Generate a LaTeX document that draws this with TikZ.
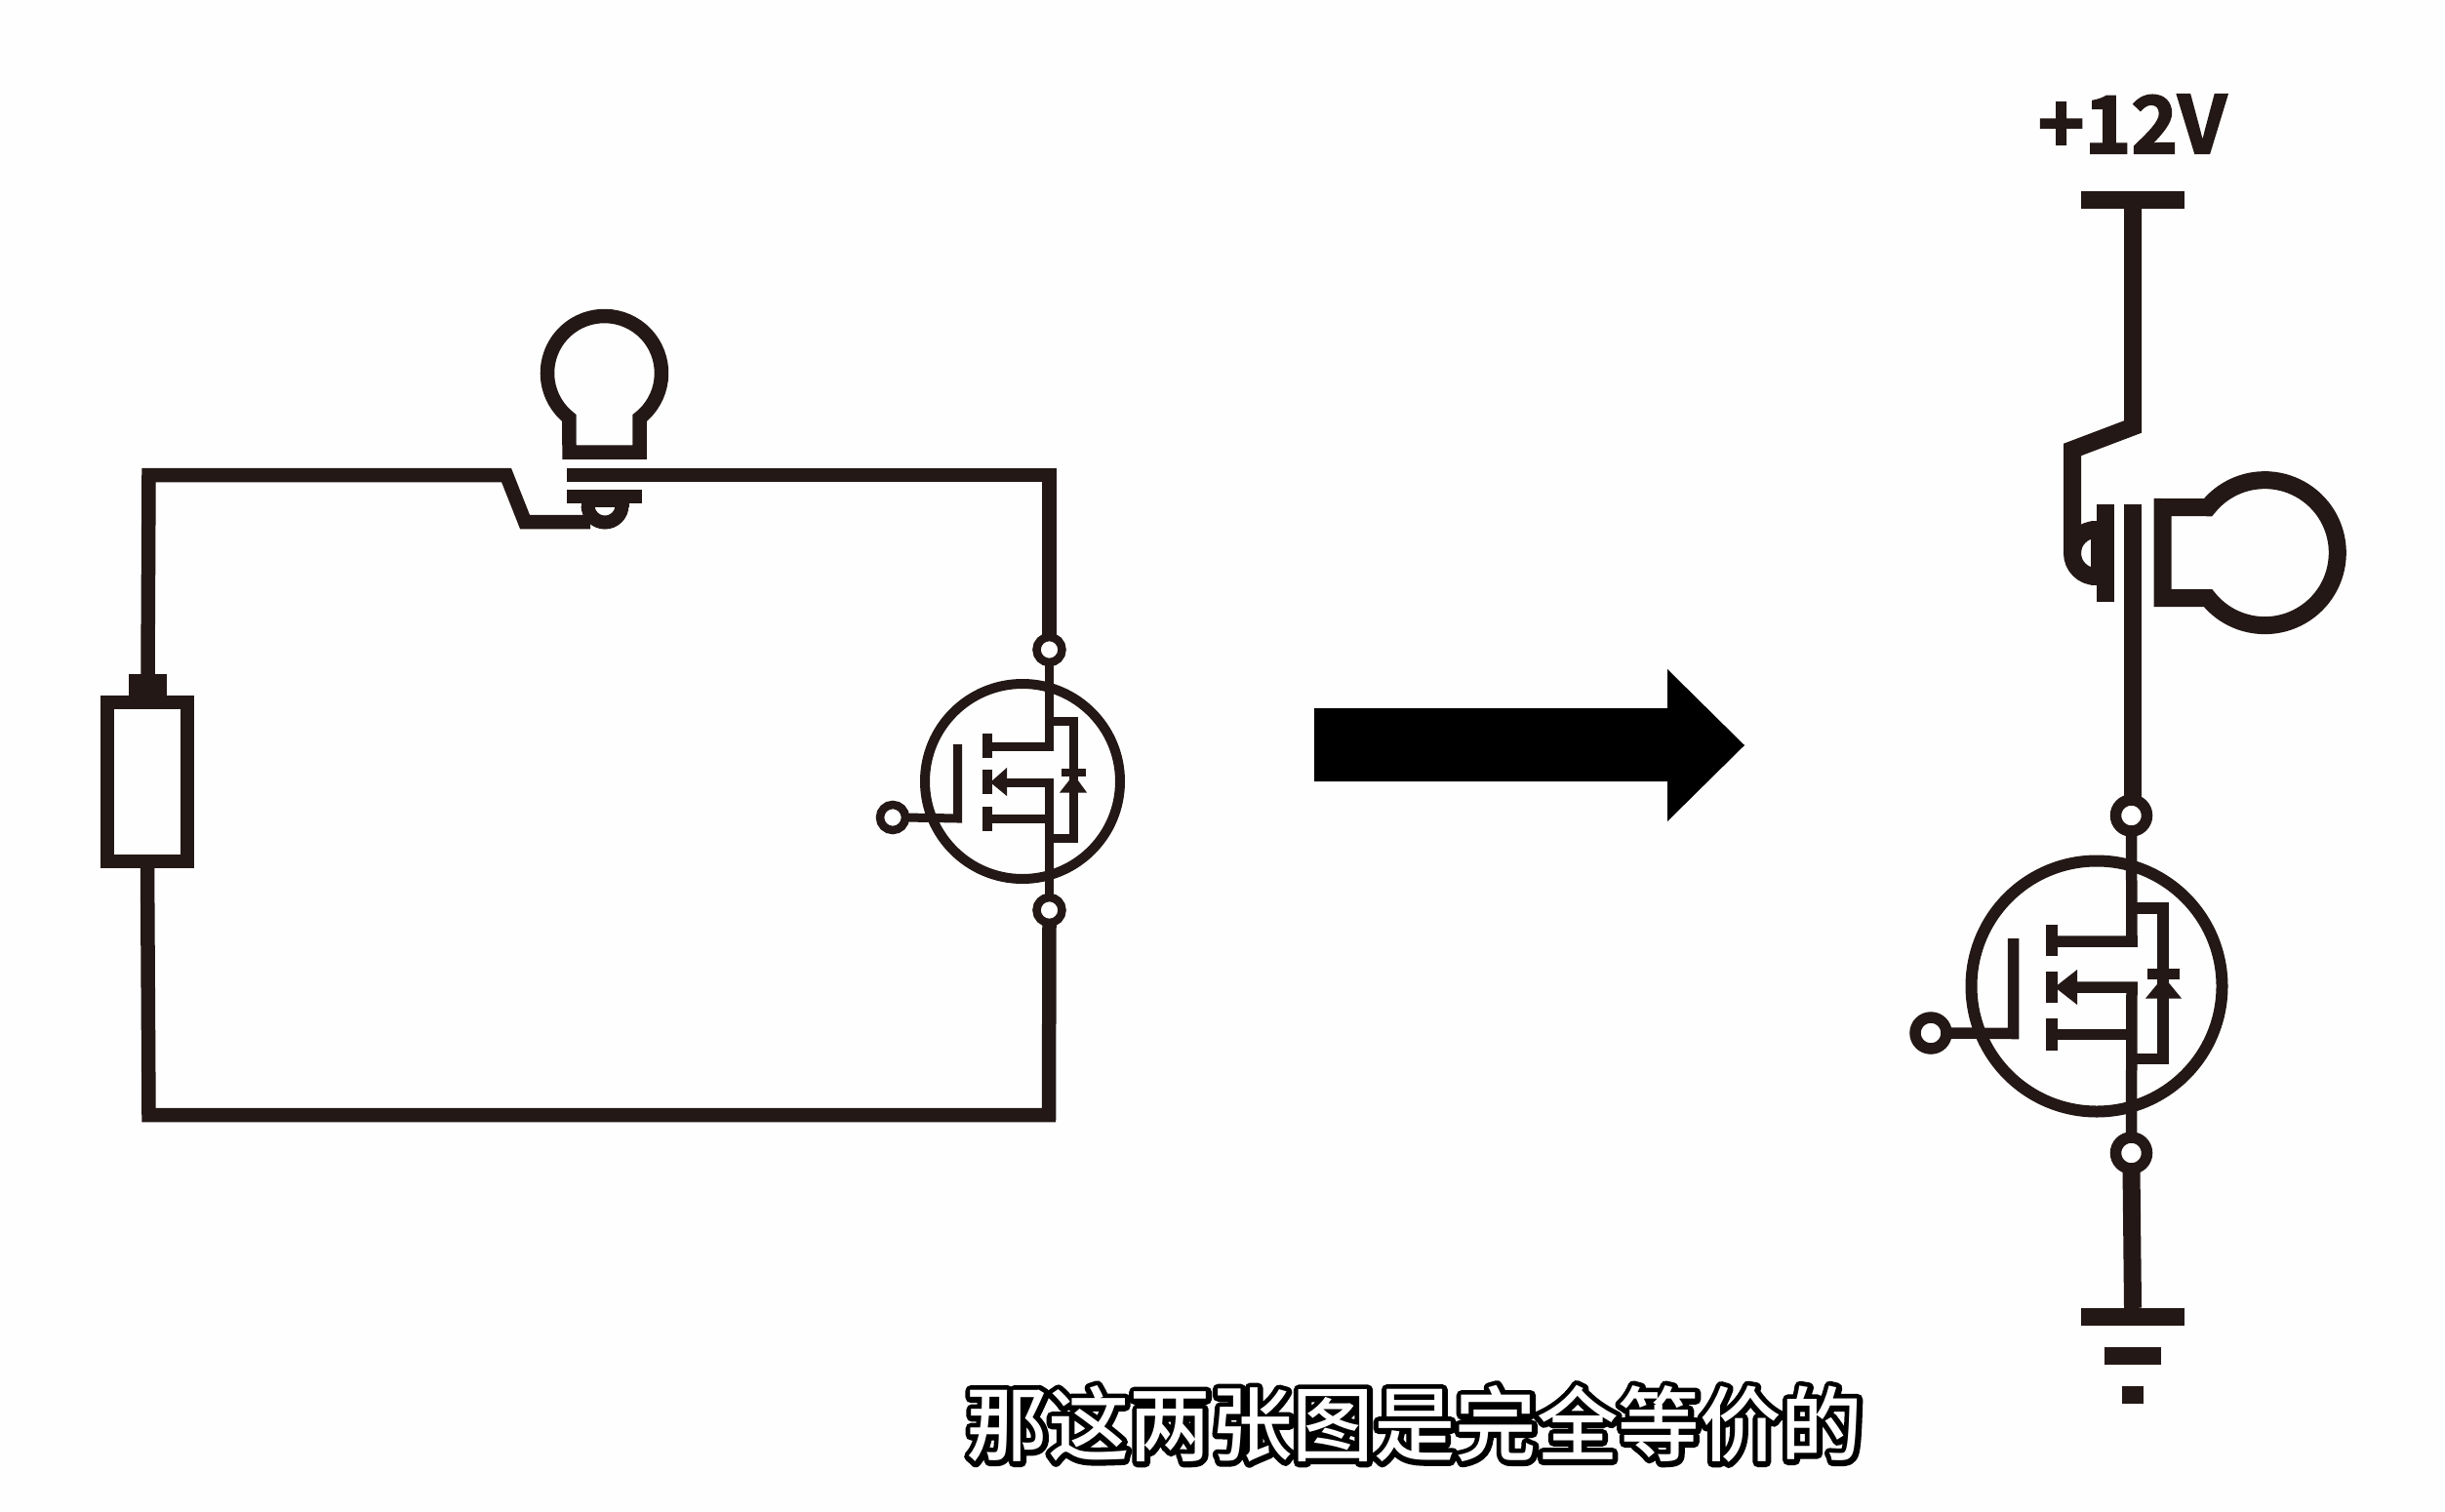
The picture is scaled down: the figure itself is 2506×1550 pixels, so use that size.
\documentclass[tikz,border=0pt]{standalone}
\usepackage{fontspec}
\newfontfamily\capblack[FakeBold=13]{Noto Sans CJK SC Medium}
\newfontfamily\capfont{Noto Sans CJK SC Medium}
\newfontfamily\voltfont[FakeBold=2.5]{Noto Sans CJK SC Bold}
\definecolor{ink}{HTML}{231815}
\definecolor{paper}{HTML}{FEFEFE}
\tikzset{
  wire/.style={draw=ink,line width=#1,line join=miter,miter limit=10},
  term/.style={circle,draw=ink,fill=white,inner sep=0pt,outer sep=0pt,line width=#1},
  solid/.style={fill=ink,draw=none},
}
\begin{document}
\begin{tikzpicture}[x=1pt,y=-1pt]
\useasboundingbox[fill=paper] (0,0) rectangle (2506,1550);

% ---------- left circuit: terminals
\node[term=8.5pt,minimum size=26pt] (ld) at (1075.5,666) {};
\node[term=8.5pt,minimum size=26pt] (ls) at (1075.5,933) {};
\node[term=8.5pt,minimum size=26pt] (lg) at (915,838) {};
\coordinate (tl) at (152.5,487);
\coordinate (tr) at (1075.5,487);
\coordinate (bl) at (152.5,1143);
\coordinate (br) at (1075,1143);
\node[solid,inner sep=0pt,minimum width=39pt,minimum height=24pt] (rescap) at (151.5,703) {};
\node[draw=ink,line width=14pt,inner sep=0pt,outer sep=0pt,minimum width=82pt,minimum height=163pt] (res) at (151,801) {};
\coordinate (sw1) at (519,487);
\coordinate (sw2) at (538,535);
\coordinate (sw3) at (605,535);
\coordinate (sw4) at (581,487);
% left wires
\draw[wire=14.5pt] (res.south) -- (bl) -- (br) -- (ls.south);
\draw[wire=14.5pt] (rescap.north) -- (tl) -- (sw1) -- (sw2) -- (sw3);
\draw[wire=14.5pt] (sw4) -- (tr) -- (ld.north);
\draw[wire=14pt] (602.5,518) arc[start angle=180,end angle=360,radius=17.5pt];
\draw[wire=14pt] (581,509) -- (658,509);
\fill[ink] (595.5,515) rectangle (645,520);
% left bulb
\draw[wire=14.5pt] (655.5,428.6) arc[start angle=308,end angle=592,radius=58.5pt] -- (583.5,463.5) -- (655.5,463.5) -- cycle;
% left MOSFET
\draw[ink,line width=10pt] (1048,801) circle[radius=100pt];
\draw[wire=9pt] (ld.south) -- (1075.5,765.5) -- (1012,765.5);
\draw[wire=9pt] (ls.north) -- (1075.5,802) -- (1030,802);
\draw[wire=9pt] (1075.5,839.5) -- (1012,839.5);
\draw[wire=9pt] (1075.5,739) -- (1100,739) -- (1100,859) -- (1075.5,859);
\draw[wire=10pt] (1012,752) -- (1012,777) (1012,789) -- (1012,814) (1012,827) -- (1012,852);
\fill[ink] (1015,802) -- (1032,787) -- (1032,816) -- cycle;
\fill[ink] (1088,788) rectangle (1113,796);
\fill[ink] (1100.5,794) -- (1086,812.5) -- (1114,812.5) -- cycle;
\draw[wire=9pt] (lg.east) -- (981.5,839) -- (981.5,763);

% ---------- arrow
\fill[black] (1347,726) -- (1709,726) -- (1709,686) -- (1788,764) -- (1709,842) -- (1709,801) -- (1347,801) -- cycle;

% ---------- right circuit: terminals
\node[term=11.5pt,minimum size=32pt] (rd) at (2184.5,836) {};
\node[term=11.5pt,minimum size=32pt] (rs) at (2184.5,1182) {};
\node[term=11.5pt,minimum size=32pt] (rg) at (1979,1059) {};
\node[inner sep=0pt,minimum width=106pt,minimum height=18pt,fill=ink] (vcc) at (2186,205) {};
\node[inner sep=0pt,minimum width=106pt,minimum height=18pt,fill=ink] (gnd1) at (2186,1350) {};
\node[inner sep=0pt,minimum width=58pt,minimum height=18pt,fill=ink] (gnd2) at (2186,1390) {};
\node[inner sep=0pt,minimum width=22pt,minimum height=18pt,fill=ink] (gnd3) at (2186,1430) {};
\node[text=ink,inner sep=0pt] (volt) at (2185.5,127) {\voltfont\fontsize{81pt}{81pt}\selectfont +12V};
% right wires
\draw[wire=18pt] (vcc.south) -- (2186,437.5) -- (2124,461) -- (2124,567);
\draw[wire=18pt] (2148,543) arc[start angle=90,end angle=270,radius=24pt];
\fill[ink] (2143,534) rectangle (2158,600);
\draw[wire=18pt] (2158,517) -- (2158,617);
\draw[wire=18pt] (2186,517) -- (2186,820);
\draw[wire=18pt] (rs.south) -- (gnd1.north);
% right bulb
\draw[wire=18pt] (2263,613) arc[start angle=218.5,end angle=501.5,radius=74.5pt] -- (2216.5,520) -- (2216.5,613) -- cycle;
% right MOSFET
\draw[ink,line width=12pt] (2149,1011) circle[radius=128.5pt];
\draw[wire=11.5pt] (rd.south) -- (2185,965) -- (2103,965);
\draw[wire=11.5pt] (rs.north) -- (2185,1012) -- (2125,1012);
\draw[wire=11.5pt] (2185,1060.5) -- (2103,1060.5);
\draw[wire=11.5pt] (2185,931) -- (2217,931) -- (2217,1085.5) -- (2185,1085.5);
\draw[wire=12.5pt] (2103,948) -- (2103,980) (2103,996) -- (2103,1028) (2103,1044) -- (2103,1077);
\fill[ink] (2106,1012) -- (2129,994) -- (2129,1030) -- cycle;
\fill[ink] (2201,993) rectangle (2234,1004);
\fill[ink] (2217.5,1001) -- (2199,1023.5) -- (2236,1023.5) -- cycle;
\draw[wire=11.5pt] (rg.east) -- (2063.5,1059.5) -- (2063.5,962);

% ---------- caption
\node[inner sep=0pt] (cap) at (1450,1460) {\fontsize{83.5pt}{84pt}\selectfont\rlap{\color{black}\special{pdf:code 1 j}\capblack 那这两张图是完全等价的\special{pdf:code 0 j}}{\color{white}\capfont 那这两张图是完全等价的}};
\end{tikzpicture}
\end{document}
